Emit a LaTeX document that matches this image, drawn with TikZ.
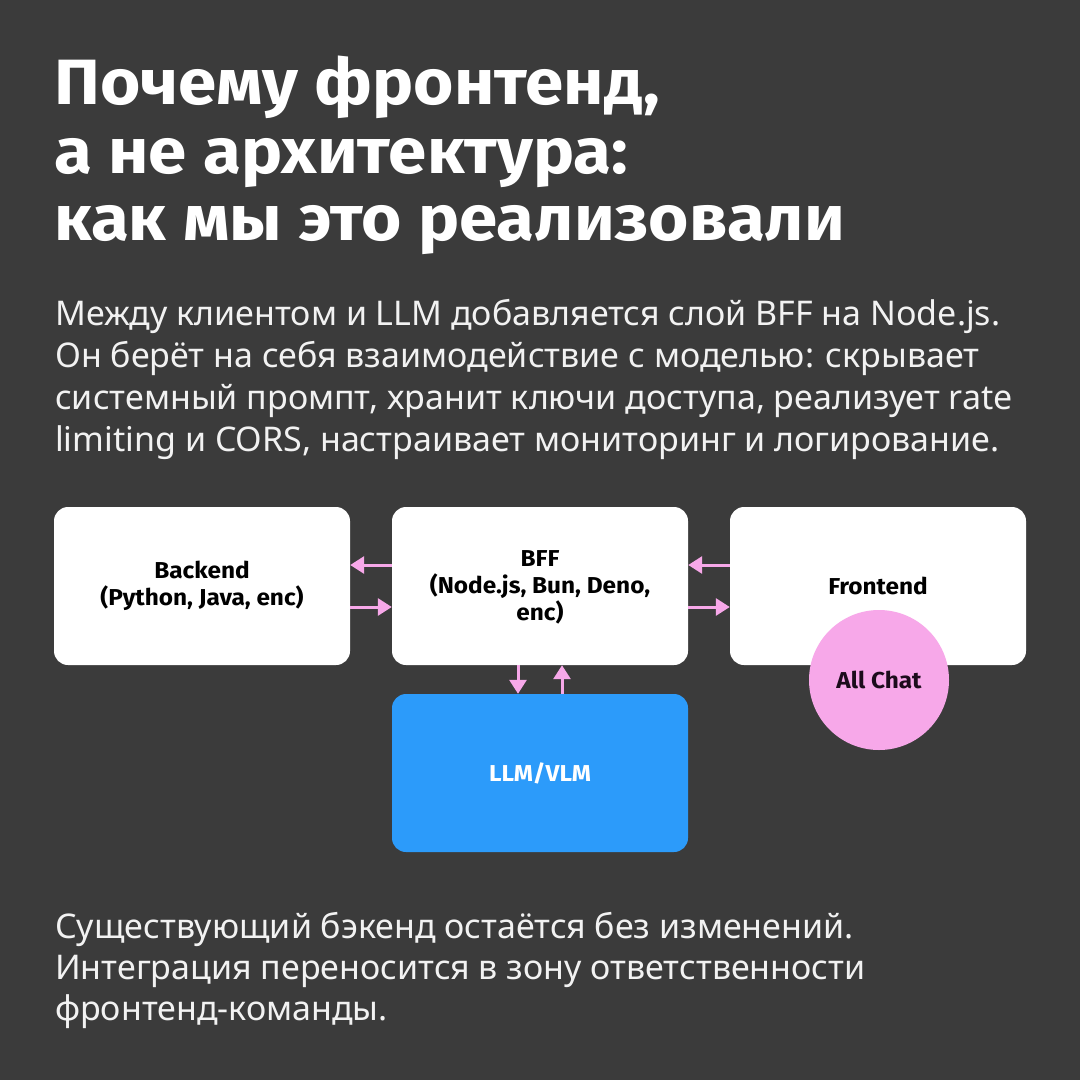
\documentclass[tikz,border=0pt]{standalone}
\usepackage{fontspec}
\setmainfont{Noto Sans}
\newfontfamily\headf{Fira Sans}[FakeStretch=1.08]
\newfontfamily\lblf{Fira Sans}[FakeStretch=1.06]
\usetikzlibrary{arrows.meta}
\definecolor{bg}{HTML}{3B3B3B}
\definecolor{pinkc}{HTML}{F7A8E9}
\definecolor{bluec}{HTML}{2C9BFA}
\definecolor{bodyc}{HTML}{F2F2F2}
\definecolor{darkt}{HTML}{1C0C1C}
\tikzset{
  card/.style={draw=none, fill=white, rounded corners=14pt, minimum width=296pt, minimum height=158pt, inner sep=0pt},
  lbl/.style={font=\lblf\fontsize{23}{27}\selectfont\bfseries, align=center, text=black},
  arr/.style={draw=pinkc, line width=3pt, -{Triangle[length=14pt, width=17pt]}},
  title/.style={anchor=base west, inner sep=0pt, text=white, font=\headf\fontsize{64}{67}\selectfont\bfseries},
  body/.style={anchor=base west, inner sep=0pt, text=bodyc, font=\fontsize{34}{42}\selectfont},
}
\begin{document}
\begin{tikzpicture}[x=1pt, y=-1pt]
\fill[bg] (0,0) rectangle (1080,1080);
\useasboundingbox (0,0) rectangle (1080,1080);
\node[title] (t1) at (54,104) {Почему фронтенд,};
\node[title] (t2) at (54,173) {а не архитектура:};
\node[title] (t3) at (54,240) {как мы это реализовали};
\node[body] (p1) at (55,325) {Между клиентом и LLM добавляется слой BFF на Node.js.};
\node[body] (p2) at (55,367) {Он берёт на себя взаимодействие с моделью: скрывает};
\node[body] (p3) at (55,409) {системный промпт, хранит ключи доступа, реализует rate};
\node[body] (p4) at (55,451) {limiting и CORS, настраивает мониторинг и логирование.};
\node[card] (back) at (202,586) {};
\node[card] (bff) at (540,586) {};
\node[card] (front) at (878,586) {};
\node[card, fill=bluec] (llm) at (540,773) {};
\node[lbl] at (back.center) {Backend\\(Python, Java, enc)};
\node[lbl] at ([yshift=-1pt]bff.center) {BFF\\(Node.js, Bun, Deno,\\enc)};
\node[lbl] at (front.center) {Frontend};
\node[lbl, text=white] at (llm.center) {LLM/VLM};
\node[circle, fill=pinkc, minimum size=140pt, inner sep=0pt, lbl, text=darkt] (chat) at (879,680) {All Chat};
\draw[arr] ([yshift=21pt]bff.west) -- ([yshift=21pt]back.east);
\draw[arr] ([yshift=-21pt]back.east) -- ([yshift=-21pt]bff.west);
\draw[arr] ([yshift=21pt]front.west) -- ([yshift=21pt]bff.east);
\draw[arr] ([yshift=-21pt]bff.east) -- ([yshift=-21pt]front.west);
\draw[arr] ([xshift=-22pt]bff.south) -- ([xshift=-22pt]llm.north);
\draw[arr] ([xshift=22pt]llm.north) -- ([xshift=22pt]bff.south);
\node[body] (q1) at (55,938) {Существующий бэкенд остаётся без изменений.};
\node[body] (q2) at (55,979) {Интеграция переносится в зону ответственности};
\node[body] (q3) at (55,1020) {фронтенд-команды.};
\end{tikzpicture}
\end{document}
